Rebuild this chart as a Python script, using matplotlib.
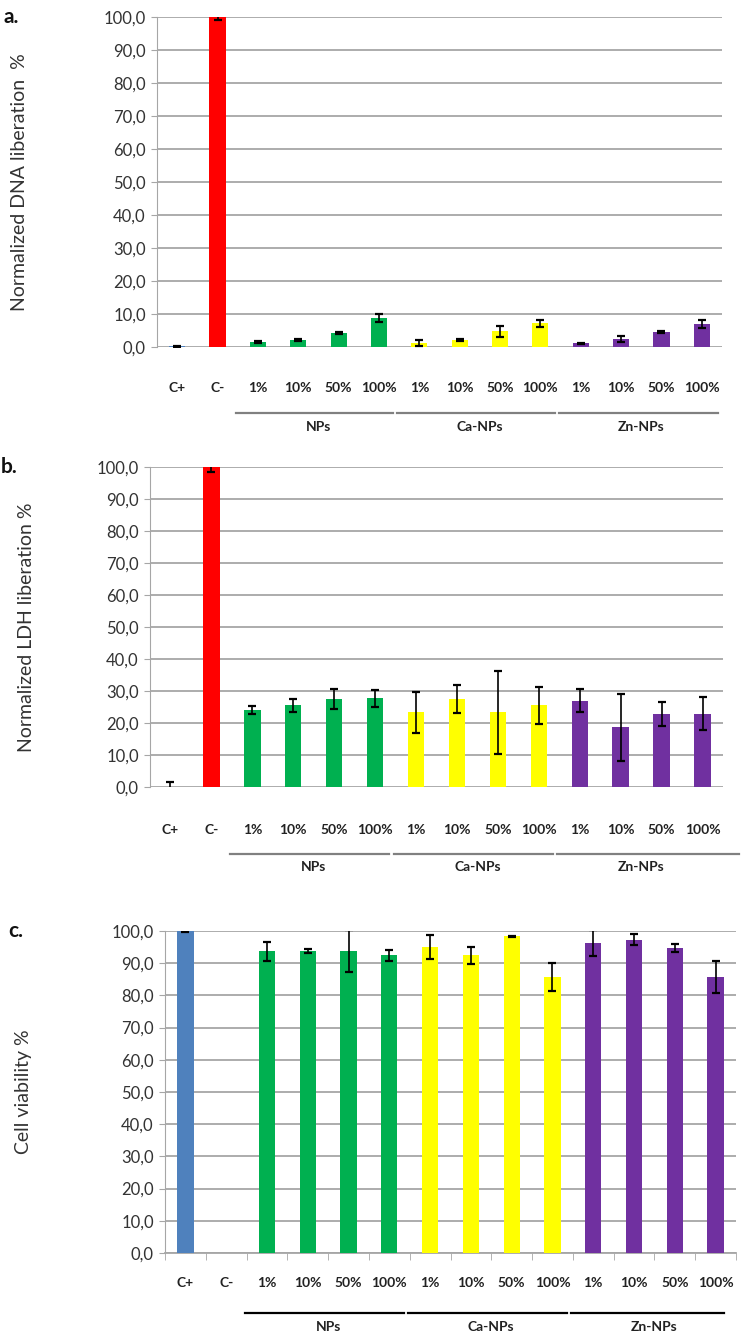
import matplotlib
matplotlib.use('Agg')
import matplotlib.pyplot as plt
import matplotlib.transforms as mtransforms
import numpy as np

plt.rcParams['font.family'] = ['Lato', 'DejaVu Sans']

# categories along the x axis
categories = ['C+', 'C-', '1%', '10%', '50%', '100%', '1%', '10%', '50%', '100%',
              '1%', '10%', '50%', '100%']
groups = ['NPs', 'Ca-NPs', 'Zn-NPs']
group_slices = [(2, 5), (6, 9), (10, 13)]

# a. DNA liberation
dna_mean = [0.2, 100.0, 1.6, 2.2, 4.2, 8.9, 1.2, 2.2, 4.7, 7.2, 1.1, 2.5, 4.4, 6.9]
dna_err = [0.2, 1.0, 0.3, 0.3, 0.4, 1.2, 0.8, 0.3, 1.7, 1.0, 0.2, 0.9, 0.3, 1.2]

# b. LDH liberation
ldh_mean = [0.0, 100.0, 24.0, 25.5, 27.5, 27.7, 23.3, 27.5, 23.3, 25.5, 27.0, 18.7, 22.9, 22.9]
ldh_err = [1.5, 1.5, 1.3, 2.0, 3.0, 2.7, 6.4, 4.5, 12.9, 5.8, 3.6, 10.5, 3.8, 5.2]

# c. cell viability
via_mean = [100.0, 0.0, 93.7, 93.7, 93.7, 92.4, 95.0, 92.4, 98.3, 85.7, 96.2, 97.3, 94.7, 85.7]
via_err = [0.3, 0.0, 3.0, 0.6, 6.5, 1.7, 3.7, 2.7, 0.2, 4.3, 4.0, 1.8, 1.3, 5.0]

colors = ['#4F81BD', '#FF0000'] + ['#00B050'] * 4 + ['#FFFF00'] * 4 + ['#7030A0'] * 4
grid_color = '#A6A6A6'

W, H = 751, 1335
fig = plt.figure(figsize=(W / 100, H / 100), dpi=100)


def px_axes(left, right, top, bottom):
    return fig.add_axes([left / W, (H - bottom) / H, (right - left) / W, (bottom - top) / H])


def draw_panel(ax, means, errs, ylabel, letter, xpad, line_y, label_y, line_color,
               ylabel_x, letter_x, bottom_axis=False, zn_end=13.4):
    x = np.arange(len(categories))
    ax.bar(x, means, width=0.4, color=colors, zorder=3)
    for xi, m, e in zip(x, means, errs):
        if m == 0 and e == 0:
            continue
        ax.errorbar(xi, m, yerr=e, fmt='none', ecolor='black', elinewidth=1.2,
                    capsize=3, capthick=1.6, zorder=4)
    ax.set_xlim(-0.5, len(categories) - 0.5)
    ax.set_ylim(0, 100)
    ax.set_yticks(np.arange(0, 101, 10))
    ax.set_yticklabels([f'{v:.1f}'.replace('.', ',') for v in range(0, 101, 10)],
                       fontsize=12, color='#333333')
    ax.yaxis.grid(True, color=grid_color, linewidth=1.3, zorder=0)
    ax.set_axisbelow(True)
    for s in ['top', 'right']:
        ax.spines[s].set_visible(False)
    ax.spines['left'].set_color(grid_color)
    ax.tick_params(axis='y', color=grid_color, length=4, pad=4)
    ax.set_xticks(x)
    ax.set_xticklabels(categories, fontsize=10, fontweight='bold', color='#222222')
    if bottom_axis:
        ax.spines['bottom'].set_color(grid_color)
        ax.spines['bottom'].set_linewidth(1.3)
        ax.set_xticks(np.arange(-0.5, len(categories), 1), minor=True)
        ax.tick_params(axis='x', which='minor', length=5, color=grid_color)
        ax.tick_params(axis='x', which='major', length=0, pad=xpad)
    else:
        ax.spines['bottom'].set_visible(False)
        ax.tick_params(axis='x', length=0, pad=xpad)
    ax.set_ylabel(ylabel, fontsize=14, color='#333333')
    ax.yaxis.set_label_coords(ylabel_x, 0.5)

    # group lines and group names under the category labels
    trans = mtransforms.blended_transform_factory(ax.transData, ax.transAxes)
    for i, (name, (a, b)) in enumerate(zip(groups, group_slices)):
        end = zn_end if i == 2 else b + 0.35
        ax.plot([a - 0.55, end], [line_y, line_y], color=line_color, lw=1.6,
                transform=trans, clip_on=False)
        ax.text((a + b) / 2, label_y, name, transform=trans, ha='center', va='center',
                fontsize=10, fontweight='bold', color='#222222')

    ax.text(letter_x, 1.0, letter, transform=ax.transAxes, fontsize=15, fontweight='bold',
            ha='left', va='center', color='#111111')


ax_a = px_axes(157, 722, 17, 347)
draw_panel(ax_a, dna_mean, dna_err, 'Normalized DNA liberation  %', 'a.', 25,
           -0.2, -0.242, '#808080', ylabel_x=-0.228, letter_x=-0.272, zn_end=13.4)

ax_b = px_axes(150, 723, 467, 787)
draw_panel(ax_b, ldh_mean, ldh_err, 'Normalized LDH liberation %', 'b.', 27,
           -0.209, -0.25, '#808080', ylabel_x=-0.2, letter_x=-0.26, zn_end=13.9)

ax_c = px_axes(165, 736, 931, 1253)
draw_panel(ax_c, via_mean, via_err, 'Cell viability %', 'c.', 17,
           -0.186, -0.23, '#000000', ylabel_x=-0.233, letter_x=-0.275,
           bottom_axis=True, zn_end=13.2)

fig.savefig('out.png', dpi=100)
